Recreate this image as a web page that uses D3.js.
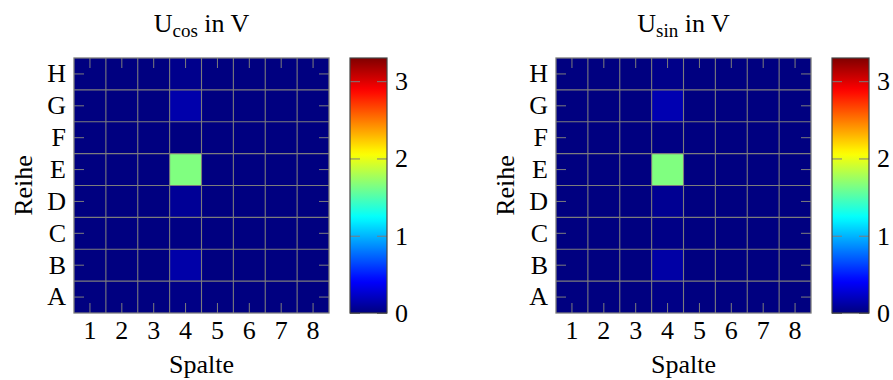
<!DOCTYPE html>
<html>
<head>
<meta charset="utf-8">
<script src="https://cdn.jsdelivr.net/npm/d3@7"></script>
<style>
  body { margin: 0; background: #fff; }
  svg { display: block; }
  text { font-family: "Liberation Serif", "DejaVu Serif", serif; fill: #000; }
</style>
</head>
<body>
<svg id="chart" width="893" height="380"></svg>
<script>
// Sensor grid: rows A–H (bottom to top), columns 1–8
const rows = ["A", "B", "C", "D", "E", "F", "G", "H"];
const cols = [1, 2, 3, 4, 5, 6, 7, 8];

// Measured voltages in V, one inner array per row (A first), columns 1..8
const uCos = [
  [0, 0, 0, 0.02, 0, 0, 0, 0],
  [0, 0, 0, 0.13, 0, 0, 0, 0],
  [0, 0, 0, 0.01, 0, 0, 0, 0],
  [0, 0, 0, 0.07, 0, 0, 0, 0],
  [0, 0, 0, 1.65, 0, 0, 0, 0],
  [0, 0, 0, 0.00, 0, 0, 0, 0],
  [0, 0, 0, 0.14, 0, 0, 0, 0],
  [0, 0, 0, 0.04, 0, 0, 0, 0]
];
const uSin = [
  [0, 0, 0, 0.02, 0, 0, 0, 0],
  [0, 0, 0, 0.12, 0, 0, 0, 0],
  [0, 0, 0, 0.02, 0, 0, 0, 0],
  [0, 0, 0, 0.06, 0, 0, 0, 0],
  [0, 0, 0, 1.65, 0, 0, 0, 0],
  [0, 0, 0, 0.01, 0, 0, 0, 0],
  [0, 0, 0, 0.16, 0, 0, 0, 0],
  [0, 0, 0, 0.03, 0, 0, 0, 0]
];

const colorbarTicks = [0, 1, 2, 3];
const metaMin = 0;
const metaMax = 3.3;

// "jet" colormap (pgfplots definition) stretched over [metaMin, metaMax]
const jetStops = [0, 1 / 8, 3 / 8, 5 / 8, 7 / 8, 1];
const jetColors = ["rgb(0,0,128)", "rgb(0,0,255)", "rgb(0,255,255)",
                   "rgb(255,255,0)", "rgb(255,0,0)", "rgb(128,0,0)"];
const color = d3.scaleLinear()
  .domain(jetStops.map(t => metaMin + t * (metaMax - metaMin)))
  .range(jetColors)
  .interpolate(d3.interpolateRgb)
  .clamp(true);

const svg = d3.select("#chart");
const FONT = 26;
const SIZE = 255;
const GRID = "#7c7c7c";
const TICK = 10;

const defs = svg.append("defs");
const grad = defs.append("linearGradient")
  .attr("id", "jetGrad")
  .attr("x1", 0).attr("y1", 1).attr("x2", 0).attr("y2", 0);
d3.range(0, 1.0001, 0.02).forEach(t => {
  grad.append("stop")
    .attr("offset", t)
    .attr("stop-color", color(metaMin + t * (metaMax - metaMin)));
});

function styleAxis(g, withLabels) {
  g.attr("font-family", null);
  g.select(".domain").remove();
  g.selectAll(".tick line").attr("stroke", GRID).attr("stroke-width", 1);
  g.selectAll(".tick text")
    .style("font-size", FONT + "px")
    .attr("fill", "#000");
  if (!withLabels) g.selectAll(".tick text").remove();
}

function panel(ox, oy, data, titleMain, titleSub, cbx) {
  const g = svg.append("g").attr("transform", `translate(${ox},${oy})`);

  const x = d3.scaleBand().domain(cols).range([0, SIZE]);
  const y = d3.scaleBand().domain(rows).range([SIZE, 0]);

  // heatmap cells
  const cells = [];
  data.forEach((r, i) => r.forEach((v, j) => cells.push({ row: rows[i], col: cols[j], v })));
  g.append("g").selectAll("rect").data(cells).join("rect")
    .attr("x", d => x(d.col))
    .attr("y", d => y(d.row))
    .attr("width", x.bandwidth())
    .attr("height", y.bandwidth())
    .attr("fill", d => color(d.v))
    .attr("shape-rendering", "crispEdges");

  // grid on cell borders
  const grid = g.append("g").attr("stroke", GRID).attr("stroke-width", 1.1);
  cols.slice(1).forEach(c => {
    grid.append("line").attr("x1", x(c)).attr("x2", x(c)).attr("y1", 0).attr("y2", SIZE);
  });
  rows.slice(1).forEach(r => {
    const yy = y(r) + y.bandwidth();
    grid.append("line").attr("x1", 0).attr("x2", SIZE).attr("y1", yy).attr("y2", yy);
  });

  // ticks pointing inward on all four sides, labels at bottom and left
  g.append("g").attr("transform", `translate(0,${SIZE})`)
    .call(d3.axisBottom(x).tickSize(-TICK).tickPadding(8))
    .call(a => styleAxis(a, true));
  g.append("g")
    .call(d3.axisTop(x).tickSize(-TICK))
    .call(a => styleAxis(a, false));
  g.append("g")
    .call(d3.axisLeft(y).tickSize(-TICK).tickPadding(8))
    .call(a => styleAxis(a, true));
  g.append("g").attr("transform", `translate(${SIZE},0)`)
    .call(d3.axisRight(y).tickSize(-TICK))
    .call(a => styleAxis(a, false));

  g.append("rect")
    .attr("width", SIZE).attr("height", SIZE)
    .attr("fill", "none").attr("stroke", GRID).attr("stroke-width", 1.3);

  // title with subscript
  const t = g.append("text")
    .attr("x", SIZE / 2).attr("y", -26)
    .attr("text-anchor", "middle")
    .style("font-size", FONT + "px");
  t.append("tspan").text(titleMain);
  t.append("tspan").text(titleSub).attr("dy", 5).style("font-size", "19px");
  t.append("tspan").text(" in V").attr("dy", -5);

  // axis titles
  g.append("text")
    .attr("x", SIZE / 2).attr("y", SIZE + 60)
    .attr("text-anchor", "middle")
    .style("font-size", FONT + "px")
    .text("Spalte");
  g.append("text")
    .attr("transform", `translate(-42,${SIZE / 2}) rotate(-90)`)
    .attr("text-anchor", "middle")
    .style("font-size", FONT + "px")
    .text("Reihe");

  // colorbar
  const cw = 37;
  const cb = g.append("g").attr("transform", `translate(${cbx},0)`);
  const cy = d3.scaleLinear().domain([metaMin, metaMax]).range([SIZE, 0]);
  cb.append("rect")
    .attr("width", cw).attr("height", SIZE)
    .attr("fill", "url(#jetGrad)");
  cb.append("g")
    .call(d3.axisLeft(cy).tickValues(colorbarTicks).tickSize(-TICK))
    .call(a => styleAxis(a, false));
  cb.append("g").attr("transform", `translate(${cw},0)`)
    .call(d3.axisRight(cy).tickValues(colorbarTicks).tickSize(-TICK).tickPadding(8)
      .tickFormat(d3.format("d")))
    .call(a => styleAxis(a, true));
  cb.append("rect")
    .attr("width", cw).attr("height", SIZE)
    .attr("fill", "none").attr("stroke", "#444").attr("stroke-width", 1.2);
}

panel(74, 58, uCos, "U", "cos", 276);
panel(556, 58, uSin, "U", "sin", 276);
</script>
</body>
</html>
